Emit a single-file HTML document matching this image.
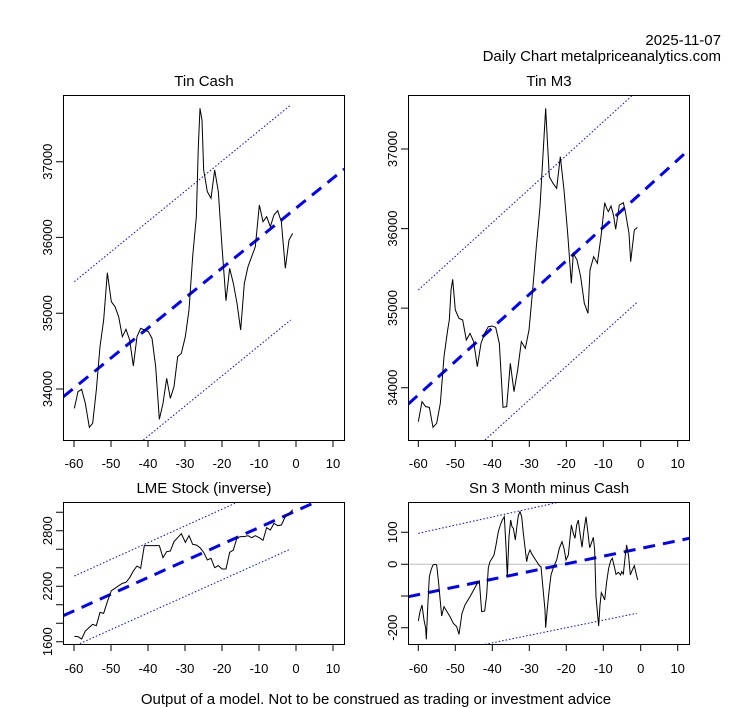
<!DOCTYPE html>
<html><head><style>
html,body{margin:0;padding:0;background:#fff;}
svg{display:block;font-family:"Liberation Sans",Arial,sans-serif;}
.blk{fill:none;stroke:#000;stroke-width:1;vector-effect:non-scaling-stroke;}
.reg{fill:none;stroke:#0000ff;stroke-width:3;stroke-dasharray:12 8;vector-effect:non-scaling-stroke;}
.band{fill:none;stroke:#0000ff;stroke-width:1;stroke-dasharray:1.5 2;vector-effect:non-scaling-stroke;}
.ax{stroke:#000;stroke-width:1;fill:none;}
text{font-size:13px;fill:#000;}
.t{font-size:15px;}
</style></head><body>
<svg width="753" height="708" viewBox="0 0 753 708">
<defs>
<clipPath id="c1"><rect x="63" y="95" width="281" height="345"/></clipPath>
<clipPath id="c2"><rect x="408" y="95" width="281" height="345"/></clipPath>
<clipPath id="c3"><rect x="63" y="502" width="281" height="142"/></clipPath>
<clipPath id="c4"><rect x="408" y="502" width="281" height="142"/></clipPath>
</defs>
<text x="721" y="45" text-anchor="end" class="t">2025-11-07</text>
<text x="721" y="61" text-anchor="end" class="t">Daily Chart metalpriceanalytics.com</text>
<text x="376" y="704" text-anchor="middle" class="t">Output of a model. Not to be construed as trading or investment advice</text>

<!-- Panel 1 -->
<text x="204" y="86" text-anchor="middle" class="t">Tin Cash</text>
<g clip-path="url(#c1)"><g transform="translate(30,90) scale(0.33333)">
<polyline class="band" points="133,575 782,45"/>
<polyline class="band" points="340,1050 782,690"/>
<polyline class="reg" points="100,920 943,237"/>
<polyline class="blk" points="133,955 144,905 155,898 166,940 178,1012 188,1000 199,900 210,770 221,690 232,548 244,635 255,650 266,680 277,740 288,718 299,750 310,828 321,740 332,715 343,720 355,725 366,745 377,830 388,988 399,940 410,865 421,925 432,890 443,800 454,790 466,740 477,660 488,500 499,380 505,170 510,55 516,90 521,240 532,305 543,325 554,240 565,305 576,470 588,632 599,535 610,580 621,640 632,720 643,580 654,530 665,500 676,470 688,345 699,395 710,380 721,410 732,375 743,362 754,395 766,535 777,450 788,430"/>
</g></g>
<rect class="ax" x="63.5" y="95.5" width="281" height="345"/>
<g class="ax"><path d="M74,441V447M111,441V447M148,441V447M185,441V447M222,441V447M259,441V447M296,441V447M333,441V447"/>
<path d="M63,389H56M63,313.2H56M63,237.4H56M63,161.7H56"/></g>
<g text-anchor="middle"><text x="74" y="468">-60</text><text x="111" y="468">-50</text><text x="148" y="468">-40</text><text x="185" y="468">-30</text><text x="222" y="468">-20</text><text x="259" y="468">-10</text><text x="296" y="468">0</text><text x="333" y="468">10</text>
<text transform="translate(52,389) rotate(-90)">34000</text><text transform="translate(52,313.2) rotate(-90)">35000</text><text transform="translate(52,237.4) rotate(-90)">36000</text><text transform="translate(52,161.7) rotate(-90)">37000</text></g>

<!-- Panel 2 -->
<text x="549" y="86" text-anchor="middle" class="t">Tin M3</text>
<g clip-path="url(#c2)"><g transform="translate(370,90) scale(0.33333)">
<polyline class="band" points="145,600 785,18"/>
<polyline class="band" points="345,1050 800,638"/>
<polyline class="reg" points="115,942 958,178"/>
<polyline class="blk" points="145,995 156,935 167,950 178,952 189,1012 200,1000 211,940 222,800 233,720 238,690 243,600 248,568 256,660 267,685 278,690 289,750 300,730 311,755 322,830 333,760 344,730 355,710 366,708 377,712 388,760 399,952 410,950 421,820 432,905 443,840 454,755 466,775 477,720 488,600 499,470 510,350 521,160 527,55 532,150 538,260 549,280 560,295 571,200 582,300 593,430 604,580 610,490 621,510 632,560 643,640 654,670 660,540 671,500 682,520 693,440 704,338 710,355 715,365 723,348 731,378 737,418 748,345 760,338 766,365 777,430 782,515 793,420 802,412"/>
</g></g>
<rect class="ax" x="408.5" y="95.5" width="281" height="345"/>
<g class="ax"><path d="M418.3,441V447M455.3,441V447M492.3,441V447M529.3,441V447M566.3,441V447M603.3,441V447M640.7,441V447M677.7,441V447"/>
<path d="M408,387.7H401M408,308.1H401M408,228.6H401M408,149H401"/></g>
<g text-anchor="middle"><text x="418.3" y="468">-60</text><text x="455.3" y="468">-50</text><text x="492.3" y="468">-40</text><text x="529.3" y="468">-30</text><text x="566.3" y="468">-20</text><text x="603.3" y="468">-10</text><text x="640.7" y="468">0</text><text x="677.7" y="468">10</text>
<text transform="translate(397,387.7) rotate(-90)">34000</text><text transform="translate(397,308.1) rotate(-90)">35000</text><text transform="translate(397,228.6) rotate(-90)">36000</text><text transform="translate(397,149) rotate(-90)">37000</text></g>

<!-- Panel 3 -->
<text x="204" y="493" text-anchor="middle" class="t">LME Stock (inverse)</text>
<g clip-path="url(#c3)"><g transform="translate(30,495) scale(0.33333)">
<polyline class="band" points="133,243 615,25"/>
<polyline class="band" points="140,450 782,162"/>
<polyline class="reg" points="100,362 855,22"/>
<polyline class="blk" points="133,424 144,425 155,432 166,408 177,398 188,388 199,392 210,352 221,355 232,320 244,287 255,280 266,272 277,265 288,262 299,248 310,228 321,213 332,220 343,152 355,152 366,152 377,152 388,152 399,188 410,170 421,168 432,140 443,128 454,116 466,142 477,122 488,148 499,150 510,158 521,172 532,195 543,190 554,218 565,212 576,222 588,222 599,172 610,165 621,128 632,125 643,125 654,122 665,128 676,122 688,128 699,136 710,98 721,105 732,85 743,92 754,90 766,65 777,56 788,44"/>
</g></g>
<rect class="ax" x="63.5" y="502.5" width="281" height="142"/>
<g class="ax"><path d="M74,645V651M111,645V651M148,645V651M185,645V651M222,645V651M259,645V651M296,645V651M333,645V651"/>
<path d="M63,641.7H56M63,623.2H56M63,604.7H56M63,586.2H56M63,567.7H56M63,549.2H56M63,530.7H56M63,512.2H56"/></g>
<g text-anchor="middle"><text x="74" y="673">-60</text><text x="111" y="673">-50</text><text x="148" y="673">-40</text><text x="185" y="673">-30</text><text x="222" y="673">-20</text><text x="259" y="673">-10</text><text x="296" y="673">0</text><text x="333" y="673">10</text>
<text transform="translate(52,641.7) rotate(-90)">1600</text><text transform="translate(52,586.2) rotate(-90)">2200</text><text transform="translate(52,530.7) rotate(-90)">2800</text></g>

<!-- Panel 4 -->
<text x="549" y="493" text-anchor="middle" class="t">Sn 3 Month minus Cash</text>
<line x1="408" y1="564.3" x2="689" y2="564.3" stroke="#bebebe" stroke-width="1"/>
<g clip-path="url(#c4)"><g transform="translate(370,495) scale(0.33333)">
<polyline class="band" points="145,115 565,22"/>
<polyline class="band" points="345,448 800,355"/>
<polyline class="reg" points="115,305 958,130"/>
<polyline class="blk" points="145,378 150,350 156,330 162,375 167,400 169,433 173,340 178,245 184,222 189,210 195,208 200,210 206,265 211,320 215,363 222,335 228,345 240,365 250,385 260,395 267,418 276,355 285,330 300,305 311,285 322,265 328,258 335,350 344,348 350,300 355,218 360,200 366,190 372,180 378,150 385,110 391,90 397,75 403,65 408,155 412,245 417,125 422,75 426,95 430,100 436,135 440,100 445,62 450,50 455,65 460,115 466,165 470,200 474,180 480,165 486,178 497,195 508,212 513,215 519,280 525,345 527,398 532,340 537,290 543,240 550,218 560,195 568,160 576,140 582,160 588,195 595,180 604,90 610,115 615,130 620,90 625,75 630,115 636,157 642,105 648,65 654,115 659,158 664,145 670,127 674,165 678,305 682,350 686,393 690,330 694,293 700,305 704,315 710,260 716,220 722,197 727,190 733,215 738,238 745,232 752,240 755,230 760,237 766,180 770,150 776,185 781,240 787,225 793,212 797,230 803,255"/>
</g></g>
<rect class="ax" x="408.5" y="502.5" width="281" height="142"/>
<g class="ax"><path d="M418.3,645V651M455.3,645V651M492.3,645V651M529.3,645V651M566.3,645V651M603.3,645V651M640.7,645V651M677.7,645V651"/>
<path d="M408,627.7H401M408,596H401M408,564.3H401M408,532.3H401"/></g>
<g text-anchor="middle"><text x="418.3" y="673">-60</text><text x="455.3" y="673">-50</text><text x="492.3" y="673">-40</text><text x="529.3" y="673">-30</text><text x="566.3" y="673">-20</text><text x="603.3" y="673">-10</text><text x="640.7" y="673">0</text><text x="677.7" y="673">10</text>
<text transform="translate(397,627.7) rotate(-90)">-200</text><text transform="translate(397,564.3) rotate(-90)">0</text><text transform="translate(397,532.3) rotate(-90)">100</text></g>
</svg>
</body></html>
